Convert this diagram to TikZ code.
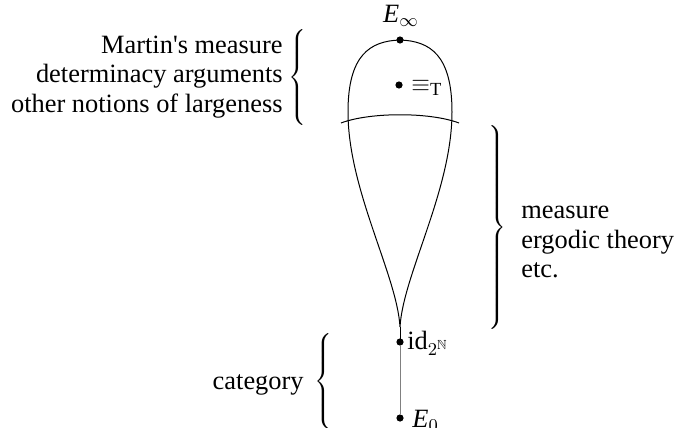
\documentclass[tikz,border=0pt]{standalone}
\usepackage{amssymb}
\usepackage{fontspec}
\setmainfont{Liberation Serif}[Ligatures=TeXOff]
\begin{document}
\begin{tikzpicture}[x=0.5pt,y=-0.5pt,
  dot/.style={circle,fill=black,inner sep=0pt,minimum size=3.6pt},
  lbl/.style={inner sep=0pt,font=\fontsize{13.2}{14.8}\selectfont},
  thinline/.style={line width=0.5pt}]
\useasboundingbox (0,0) rectangle (675,428);
% dots
\node[dot] (einf) at (400,40) {};
\node[dot] (eqt) at (399,85) {};
\node[dot] (id) at (400,342) {};
\node[dot] (e0) at (400,418) {};
\coordinate (cusp) at (400,327);
% bulb
\draw[thinline] (cusp) .. controls (397,275) and (348,190) .. (348,112)
  .. controls (348,55) and (370,41) .. (einf.center)
  .. controls (430,41) and (452,55) .. (452,112)
  .. controls (452,190) and (403,275) .. (cusp);
\draw[thinline] (341,123) .. controls (370,112) and (430,112) .. (459,123);
% lines
\draw[thinline] (cusp) -- (id.center);
\draw[thinline,gray] (id) -- (e0);
% point labels
\node[lbl] (leinf) at (401,16) {\textit{E}$_\infty$};
\node[lbl,anchor=west] (leqt) at (411,88) {$\equiv_{\mathrm{T}}$};
\node[lbl,anchor=west] (lid) at (407,343) {id$_{2^{\mathbb{N}}}$};
\node[lbl,anchor=west] (le0) at (412,421) {\textit{E}$_0$};
% texts
\node[lbl,anchor=east,align=right] (tmartin) at (283,77) {Martin's measure\\determinacy arguments\\other notions of largeness};
\node[lbl,anchor=west,align=left] (tmeasure) at (521,242) {measure\\ergodic theory\\etc.};
\node[lbl,anchor=east] (tcat) at (304,385) {category};
% braces
\node[inner sep=0pt] (b1) at (299,80) {$\left\{\vrule height 24pt depth 24pt width 0pt\right.$};
\node[inner sep=0pt] (b2) at (496,228) {$\left.\vrule height 49pt depth 49pt width 0pt\right\}$};
\node[inner sep=0pt] (b3) at (325,383) {$\left\{\vrule height 23pt depth 23pt width 0pt\right.$};
\end{tikzpicture}
\end{document}
